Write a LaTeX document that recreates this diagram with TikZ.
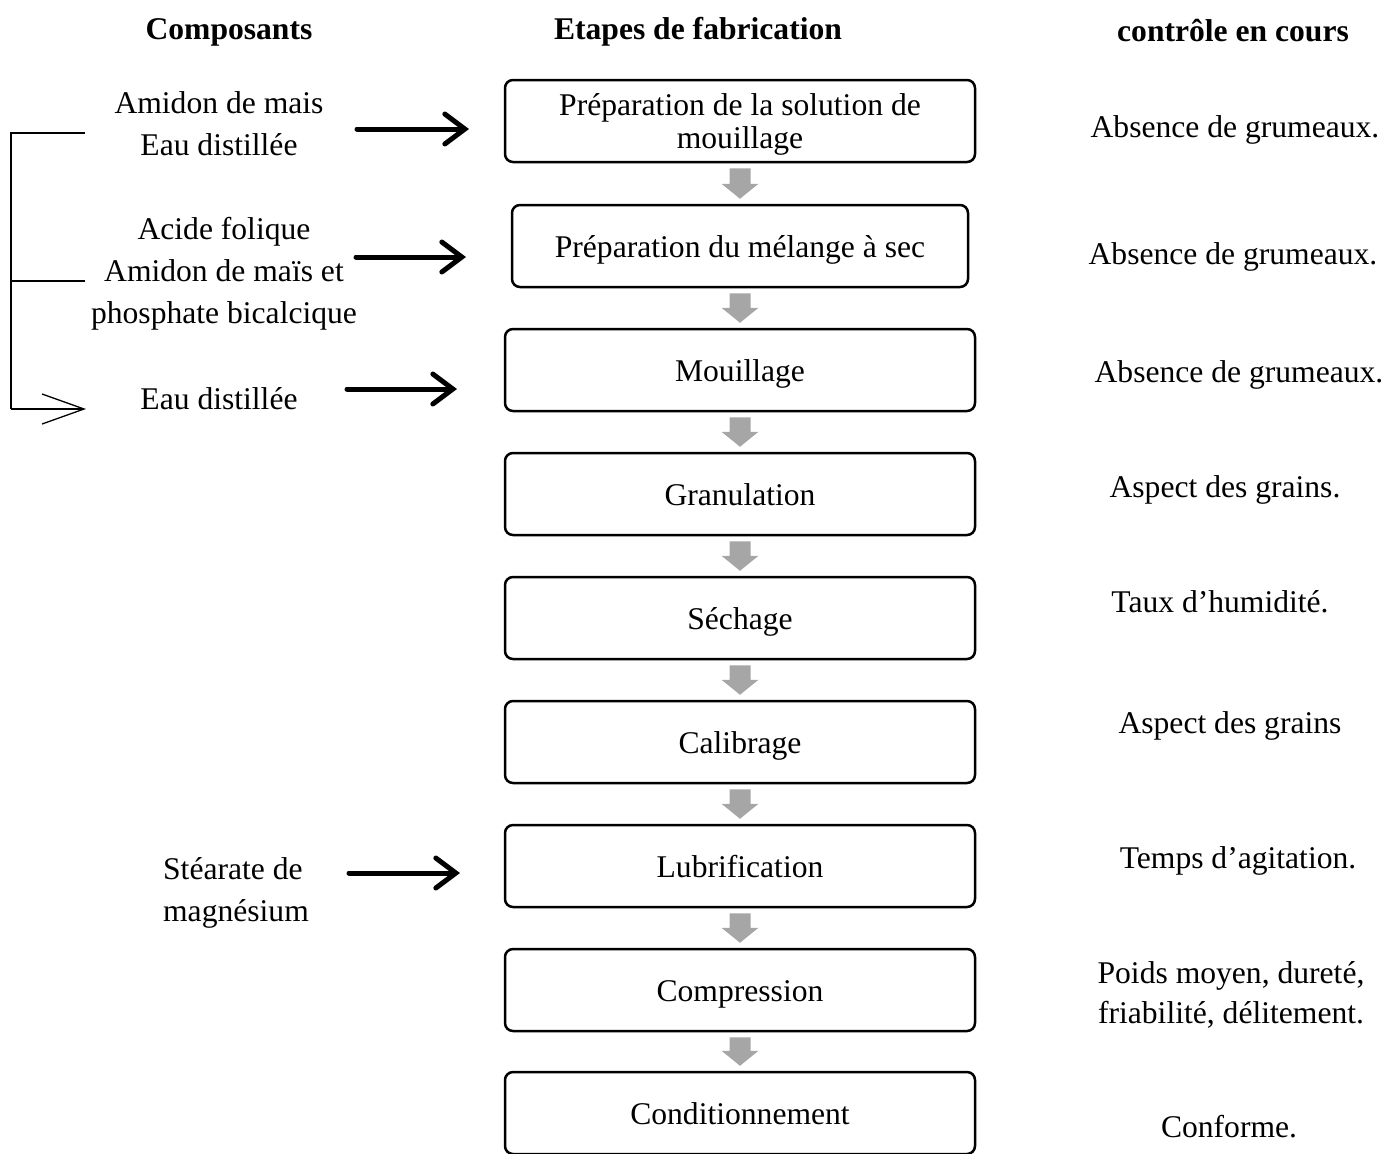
\documentclass[tikz,border=0pt]{standalone}
\usepackage{fontspec}
\setmainfont{Liberation Serif}
\usetikzlibrary{arrows.meta,calc}
\definecolor{arrowgray}{HTML}{A6A6A6}
\begin{document}
\begin{tikzpicture}[x=0.5pt,y=-0.5pt,
  txt/.style={font=\fontsize{15.8}{21}\selectfont, inner sep=0pt, align=center},
  rtxt/.style={font=\fontsize{15.8}{20}\selectfont, inner sep=0pt, align=center},
  hdr/.style={font=\fontsize{15.8}{19}\selectfont\bfseries, inner sep=0pt},
  stepbox/.style={draw, line width=1.25pt, rounded corners=4pt, minimum width=235pt,
    minimum height=41pt, inner sep=0pt, align=center, font=\fontsize{15.8}{16.5}\selectfont},
  oneline/.style={text height=14pt, text depth=3pt},
  blk/.style={line width=2.5pt, line cap=round, -{Straight Barb[length=10pt,width=15pt,line cap=round]}},
  thinline/.style={line width=0.65pt},
  garrow/.style={fill=arrowgray}]
\useasboundingbox (0,0) rectangle (1386,1153);

% headers
\node[hdr] (h1) at (229,32) {Composants};
\node[hdr] (h2) at (698,32) {Etapes de fabrication};
\node[hdr] (h3) at (1233,31) {contrôle en cours};

% steps
\node[stepbox] (b1) at (740,121) {\rule{0pt}{14pt}Préparation de la solution de\\mouillage};
\node[stepbox, oneline, minimum width=228pt] (b2) at (740,246) {Préparation du mélange à sec};
\node[stepbox, oneline] (b3) at (740,370) {Mouillage};
\node[stepbox, oneline] (b4) at (740,494) {Granulation};
\node[stepbox, oneline] (b5) at (740,618) {Séchage};
\node[stepbox, oneline] (b6) at (740,742) {Calibrage};
\node[stepbox, oneline] (b7) at (740,866) {Lubrification};
\node[stepbox, oneline] (b8) at (740,990) {Compression};
\node[stepbox, oneline] (b9) at (740,1113) {Conditionnement};

% gray arrows
\foreach \i/\j in {1/2,2/3,3/4,4/5,5/6,6/7,7/8,8/9}{
  \fill[garrow] ($(b\i.south)+(-10.5,5)$) -- ($(b\i.south)+(10.5,5)$)
    -- ($(b\j.north)+(10.5,-20)$) -- ($(b\j.north)+(18.5,-20)$)
    -- ($(b\j.north)+(0,-5)$) -- ($(b\j.north)+(-18.5,-20)$)
    -- ($(b\j.north)+(-10.5,-20)$) -- cycle;
}

% components
\node[txt] (l1) at (219,124) {Amidon de mais\\Eau distillée};
\node[txt] (l2) at (224,274) {Acide folique\\Amidon de maïs et\\phosphate bicalcique};
\node[txt] (l3) at (219,399) {Eau distillée};
\node[txt, align=left] (l4) at (236,893) {Stéarate de\\magnésium};

% black arrows
\coordinate (s1) at (357,129); \coordinate (e1) at (469,129);
\coordinate (s2) at (356,257); \coordinate (e2) at (466,257);
\coordinate (s3) at (347,389); \coordinate (e3) at (457,389);
\coordinate (s4) at (349,873); \coordinate (e4) at (460,873);
\draw[blk] (s1) -- (e1);
\draw[blk] (s2) -- (e2);
\draw[blk] (s3) -- (e3);
\draw[blk] (s4) -- (e4);

% bracket
\coordinate (k0) at (11,133); \coordinate (k1) at (85,133);
\coordinate (k2a) at (12,281); \coordinate (k2) at (85,281);
\coordinate (k3a) at (11,409); \coordinate (k3) at (86,409);
\draw[thinline] (k1) -- (k0) -- (k3a);
\draw[thinline] (k2a) -- (k2);
\draw[thinline, -{Straight Barb[length=21pt,width=15pt]}] (k3a) -- (k3);

% controls
\node[rtxt] (r1) at (1235,130) {Absence de grumeaux.};
\node[rtxt] (r2) at (1233,257) {Absence de grumeaux.};
\node[rtxt] (r3) at (1239,375) {Absence de grumeaux.};
\node[rtxt] (r4) at (1225,490) {Aspect des grains.};
\node[rtxt] (r5) at (1220,602) {Taux d’humidité.};
\node[rtxt] (r6) at (1230,726) {Aspect des grains};
\node[rtxt] (r7) at (1238,861) {Temps d’agitation.};
\node[rtxt] (r8) at (1231,995) {Poids moyen, dureté,\\friabilité, délitement.};
\node[rtxt] (r9) at (1229,1127) {Conforme.};
\end{tikzpicture}
\end{document}
